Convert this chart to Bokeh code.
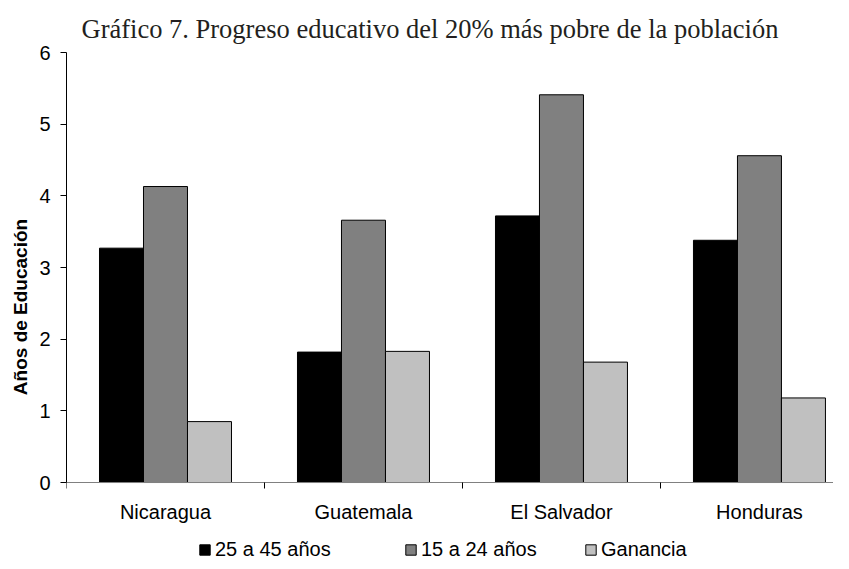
from bokeh.plotting import figure
from bokeh.models import Range1d, FixedTicker, Legend, LegendItem
from bokeh.embed import file_html
from bokeh.resources import INLINE

# ---- data ----
countries = ["Nicaragua", "Guatemala", "El Salvador", "Honduras"]
series_names = ["25 a 45 años", "15 a 24 años", "Ganancia"]
adultos = [3.27, 1.82, 3.72, 3.38]
jovenes = [4.13, 3.66, 5.41, 4.56]
ganancia = [0.85, 1.83, 1.68, 1.18]
y_ticks = [0, 1, 2, 3, 4, 5, 6]
title_text = "Gráfico 7. Progreso educativo del 20% más pobre de la población"
y_label = "Años de Educación"

colors = ["#000000", "#808080", "#c0c0c0"]
bar_w = 1 / 4.5
centers = [i + 0.5 for i in range(len(countries))]
bounds = [float(i) for i in range(len(countries) + 1)]

p = figure(width=833, height=561, output_backend="svg", toolbar_location=None,
           x_range=Range1d(0, 3.874), y_range=Range1d(-1.102, 6),
           min_border_left=66, min_border_right=0, min_border_top=52,
           min_border_bottom=0)

p.title.text = title_text
p.title.text_font = "Liberation Serif"
p.title.text_font_size = "26.5px"
p.title.text_font_style = "normal"
p.title.text_color = "#231f20"
p.title.align = "left"
p.title.offset = 15
p.title.standoff = 18

items = []
for k, (name, vals, col) in enumerate(zip(series_names, [adultos, jovenes, ganancia], colors)):
    xs = [c + (k - 1) * bar_w for c in centers]
    r = p.vbar(x=xs, top=vals, width=bar_w, fill_color=col,
               line_color="#000000", line_width=1)
    items.append(LegendItem(label=name, renderers=[r]))

# x axis, drawn at y = 0 inside the plot area
xa = p.xaxis[0]
xa.fixed_location = 0
xa.ticker = FixedTicker(ticks=centers, minor_ticks=bounds)
xa.major_label_overrides = {c: n for c, n in zip(centers, countries)}
xa.major_tick_line_color = None
xa.major_tick_out = 0
xa.major_tick_in = 0
xa.minor_tick_out = 6
xa.minor_tick_in = 0
xa.minor_tick_line_color = "#000000"
xa.axis_line_color = "#808080"
xa.major_label_text_font = "Liberation Sans"
xa.major_label_text_font_size = "20px"
xa.major_label_text_color = "#000000"
xa.major_label_standoff = 12

# y axis
ya = p.yaxis[0]
ya.ticker = FixedTicker(ticks=y_ticks, minor_ticks=[])
ya.bounds = (0, 6)
ya.major_tick_out = 6
ya.major_tick_in = 0
ya.axis_line_color = "#000000"
ya.major_tick_line_color = "#000000"
ya.major_label_text_font = "Liberation Sans"
ya.major_label_text_font_size = "20px"
ya.major_label_text_color = "#000000"
ya.major_label_standoff = 10
ya.axis_label = y_label
ya.axis_label_text_font = "Liberation Sans"
ya.axis_label_text_font_size = "19px"
ya.axis_label_text_font_style = "bold"
ya.axis_label_text_color = "#000000"
ya.axis_label_standoff = 5

p.xgrid.grid_line_color = None
p.ygrid.grid_line_color = None
p.outline_line_color = None
p.background_fill_color = "white"
p.border_fill_color = "white"

legend_x = [132, 338, 518]
for item, lx in zip(items, legend_x):
    leg = Legend(items=[item], location=(lx, 0), glyph_width=13, glyph_height=13,
                 label_standoff=4, padding=0, margin=0, border_line_color=None,
                 background_fill_alpha=0,
                 label_text_font="Liberation Sans", label_text_font_size="20px",
                 label_text_color="#000000")
    p.add_layout(leg, "center")

with open("out.html", "w") as f:
    f.write(file_html(p, INLINE))
